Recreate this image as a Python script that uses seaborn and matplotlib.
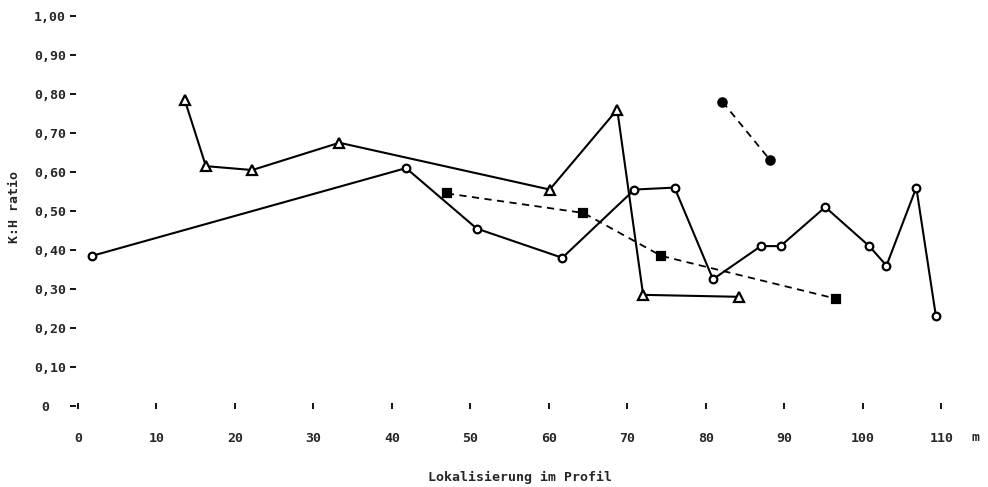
import matplotlib
matplotlib.use("Agg")
import matplotlib.pyplot as plt
import seaborn as sns
import pandas as pd

# Kreise (offen), durchgezogene Linie
circ_x = [1.8, 41.8, 50.8, 61.7, 70.9, 76.0, 80.9, 87.0, 89.5, 95.2, 100.8, 103.0, 106.8, 109.3]
circ_y = [0.385, 0.61, 0.455, 0.38, 0.555, 0.56, 0.325, 0.41, 0.41, 0.51, 0.41, 0.36, 0.56, 0.23]

# Dreiecke (offen), durchgezogene Linie
tri_x = [13.6, 16.3, 22.2, 33.3, 60.1, 68.7, 72.0, 84.2]
tri_y = [0.785, 0.615, 0.605, 0.675, 0.555, 0.76, 0.285, 0.28]

# Quadrate (gefuellt), gestrichelt
sq_x = [47.0, 64.4, 74.3, 96.6]
sq_y = [0.545, 0.495, 0.385, 0.275]

# Punkte (gefuellt), gestrichelt
dot_x = [82.1, 88.2]
dot_y = [0.78, 0.63]

x_ticks = [0, 10, 20, 30, 40, 50, 60, 70, 80, 90, 100, 110]
y_ticks = [0, 0.1, 0.2, 0.3, 0.4, 0.5, 0.6, 0.7, 0.8, 0.9, 1.0]
y_labels = ["0  ", "0,10", "0,20", "0,30", "0,40", "0,50", "0,60", "0,70", "0,80", "0,90", "1,00"]


def main():
    sns.set_style("white")
    plt.rcParams["font.family"] = ["DejaVu Sans Mono"]
    plt.rcParams["font.weight"] = "bold"
    fs = 9.5

    fig = plt.figure(figsize=(9.88, 4.87), dpi=100)
    ax = fig.add_axes([0.0765, 0.1663, 0.9002, 0.8169])

    series = [
        (circ_x, circ_y, "o", "-", "white", 5.5),
        (tri_x, tri_y, "^", "-", "white", 6.5),
        (sq_x, sq_y, "s", "--", "black", 6),
        (dot_x, dot_y, "o", "--", "black", 6),
    ]
    for xs, ys, mk, ls, fc, ms in series:
        df = pd.DataFrame({"x": xs, "y": ys})
        sns.lineplot(data=df, x="x", y="y", ax=ax, sort=False, estimator=None,
                     color="black", linestyle=ls, linewidth=1.5 if ls == "-" else 1.3,
                     marker=mk, markersize=ms, markerfacecolor=fc,
                     markeredgecolor="black", markeredgewidth=1.6)
    # gestrichelte Linien etwas laenger
    for ln in ax.get_lines():
        if ln.get_linestyle() == "--":
            ln.set_dashes((4, 3))

    ax.set_xlim(-0.3, 113)
    ax.set_ylim(0, 1.02)
    for s in ax.spines.values():
        s.set_visible(False)

    ax.set_xticks(x_ticks)
    ax.set_xticklabels([str(t) for t in x_ticks])
    ax.set_yticks(y_ticks)
    ax.set_yticklabels(y_labels)
    ax.tick_params(axis="x", direction="inout", length=5, width=1.3, pad=16,
                   labelsize=fs, color="black", bottom=True)
    ax.tick_params(axis="y", direction="out", length=4, width=1.3, pad=3,
                   labelsize=fs, color="black", left=True)
    ax.text(114.3, -0.08, "m", ha="center", va="center", fontsize=fs,
            fontweight="bold", clip_on=False)

    ax.set_xlabel("Lokalisierung im Profil", fontsize=fs, fontweight="bold", labelpad=19)
    ax.set_ylabel("K:H ratio", fontsize=fs, fontweight="bold", labelpad=9)

    fig.savefig("out.png", dpi=100, facecolor="white")


if __name__ == '__main__':
    main()
